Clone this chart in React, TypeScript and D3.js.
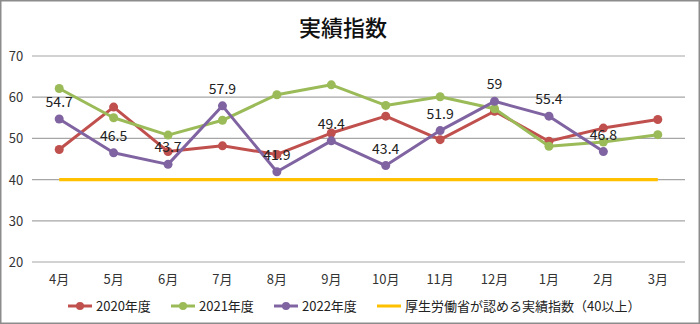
import React from "react";
import * as d3 from "d3";

const months = ["4月", "5月", "6月", "7月", "8月", "9月", "10月", "11月", "12月", "1月", "2月", "3月"];
const y2020 = [47.3, 57.6, 46.8, 48.2, 46.1, 51.3, 55.4, 49.7, 56.6, 49.3, 52.5, 54.6];
const y2021 = [62.1, 55.0, 50.8, 54.4, 60.6, 63.0, 58.0, 60.1, 57.2, 48.1, 49.1, 50.9];
const y2022 = [54.7, 46.5, 43.7, 57.9, 41.9, 49.4, 43.4, 51.9, 59, 55.4, 46.8];
const standard = [40, 40, 40, 40, 40, 40, 40, 40, 40, 40, 40, 40];
const yTicks = [20, 30, 40, 50, 60, 70];
const seriesNames = ["2020年度", "2021年度", "2022年度", "厚生労働省が認める実績指数（40以上）"];

const W = 700, H = 324;
const FONT = "'Noto Sans CJK JP', 'Noto Sans', sans-serif";

export default function App() {
  const x = d3.scaleBand<string>().domain(months).range([32, 685]);
  const cx = (m: string) => (x(m) ?? 0) + x.bandwidth() / 2;
  const y = d3.scaleLinear().domain([20, 70]).range([262, 56]);
  const line = d3.line<number>().x((_, i) => cx(months[i])).y((v) => y(v));

  const series = [
    { name: seriesNames[0], data: y2020, color: "#C0504D", marker: true },
    { name: seriesNames[1], data: y2021, color: "#9BBB59", marker: true },
    { name: seriesNames[2], data: y2022, color: "#8064A2", marker: true },
  ];

  const legend = [
    { name: seriesNames[0], color: "#C0504D", marker: true, lx: 68 },
    { name: seriesNames[1], color: "#9BBB59", marker: true, lx: 171 },
    { name: seriesNames[2], color: "#8064A2", marker: true, lx: 274 },
    { name: seriesNames[3], color: "#FFC000", marker: false, lx: 377 },
  ];

  return (
    <svg width={W} height={H} style={{ position: "absolute", left: 0, top: 0, display: "block" }} fontFamily={FONT}>
      <rect x={0} y={0} width={W} height={H} fill="#fff" />
      <rect x={0.75} y={0.75} width={W - 1.5} height={H - 1.5} fill="none" stroke="#8c8c8c" strokeWidth={1.5} />
      <text x={343} y={36} textAnchor="middle" fontSize={22} fontWeight={500} fill="#111">実績指数</text>

      {yTicks.map((t) => (
        <g key={t}>
          <line x1={32} x2={685} y1={y(t)} y2={y(t)} stroke="#a6a6a6" strokeWidth={1.2} />
          <text x={16} y={y(t) + 5} textAnchor="middle" fontSize={13} fill="#333">{t}</text>
        </g>
      ))}

      {months.map((m) => (
        <text key={m} x={cx(m)} y={284} textAnchor="middle" fontSize={13} fill="#333">{m}</text>
      ))}

      <path d={line(standard) ?? ""} fill="none" stroke="#FFC000" strokeWidth={3.2} />

      {series.map((s) => (
        <g key={s.name}>
          <path d={line(s.data) ?? ""} fill="none" stroke={s.color} strokeWidth={3} strokeLinejoin="round" />
          {s.data.map((v, i) => (
            <circle key={i} cx={cx(months[i])} cy={y(v)} r={4.5} fill={s.color} />
          ))}
        </g>
      ))}

      {y2022.map((v, i) => (
        <text key={i} x={cx(months[i])} y={y(v) - 12} textAnchor="middle" fontSize={14} fill="#222">{String(v)}</text>
      ))}

      {legend.map((l) => (
        <g key={l.name}>
          <line x1={l.lx} x2={l.lx + 24} y1={306} y2={306} stroke={l.color} strokeWidth={3} />
          {l.marker && <circle cx={l.lx + 12} cy={306} r={4} fill={l.color} />}
          <text x={l.lx + 28} y={311} fontSize={13} fill="#222">{l.name}</text>
        </g>
      ))}
    </svg>
  );
}
